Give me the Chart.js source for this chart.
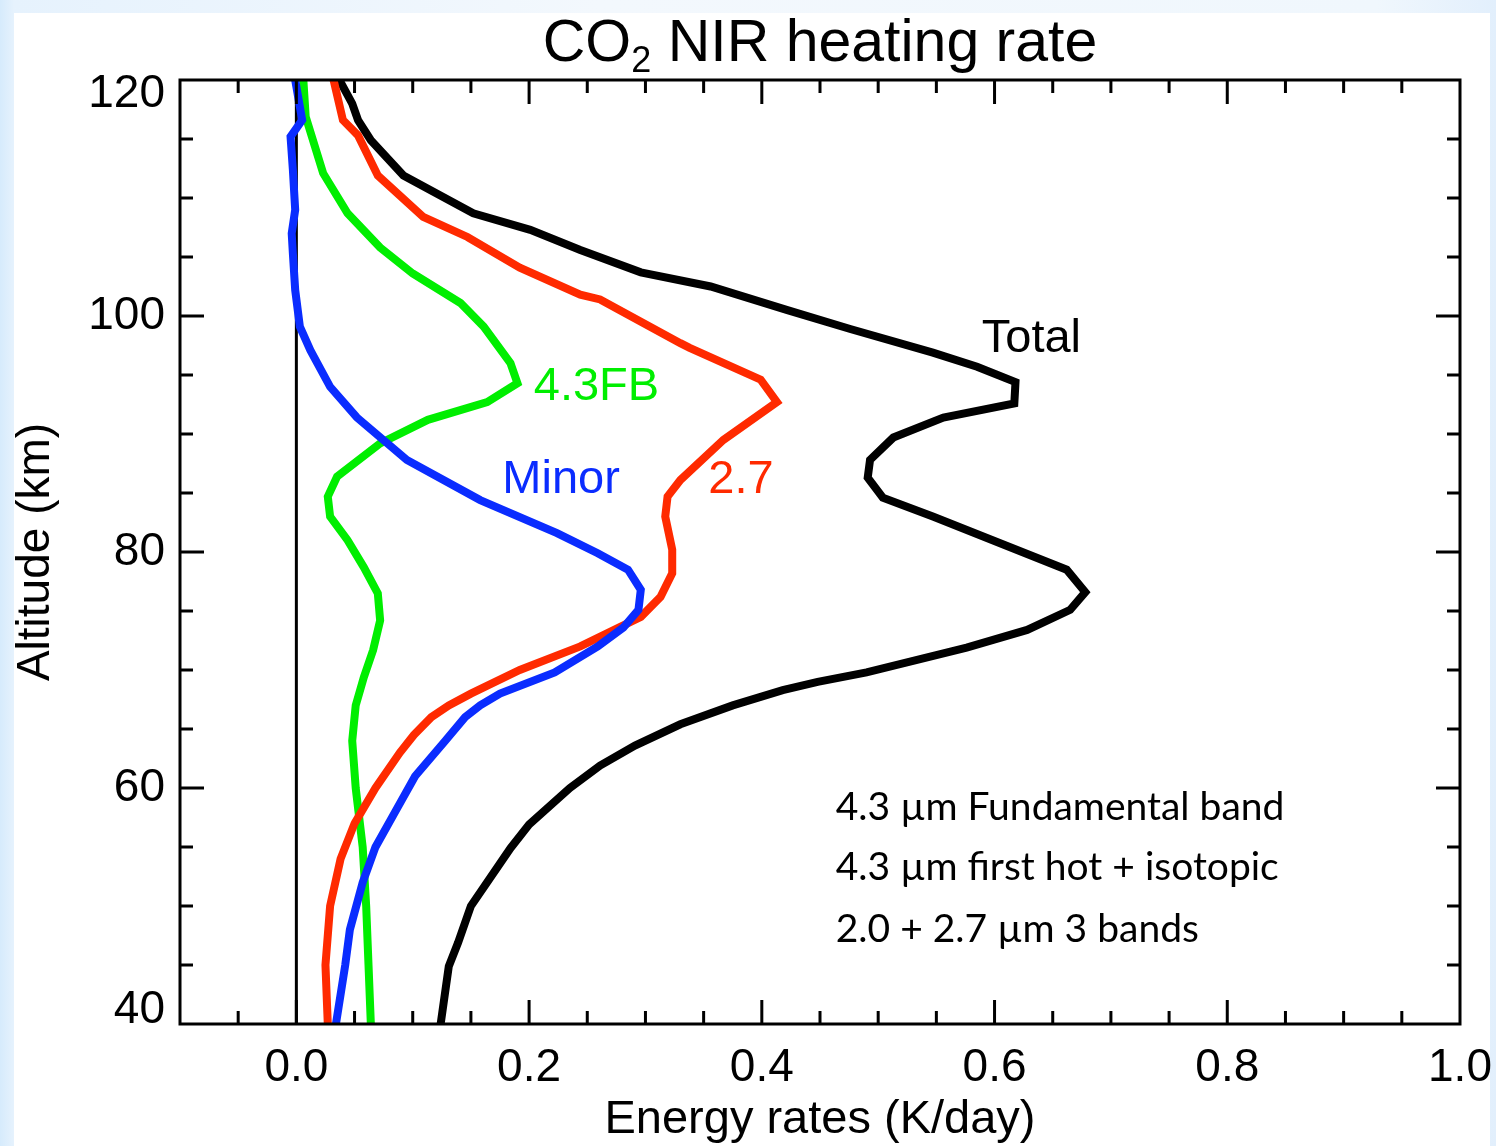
<!DOCTYPE html>
<html>
<head>
<meta charset="utf-8">
<title>CO2 NIR heating rate</title>
<script src="https://cdn.jsdelivr.net/npm/chart.js@4.4.1/dist/chart.umd.min.js"></script>
<style>
  html, body { margin:0; padding:0; }
  body {
    width:1496px; height:1146px; overflow:hidden; position:relative;
    background:linear-gradient(to right, #d6ebfc 0px, #e6f2fd 14px, #f3f8fd 40%, #f0f7fd 92%, #e2effc 100%);
  }
  #panel { position:absolute; left:14px; top:13px; width:1476px; height:1133px; background:#fff; }
  #chart { position:absolute; left:0; top:0; }
</style>
</head>
<body>
<div id="panel"></div>
<canvas id="chart" width="1496" height="1146"></canvas>
<script>

/* data: altitude (km) and heating rate (K/day) per curve */

const totalAlt = [120, 118, 116.6, 114.9, 111.9, 108.7, 107.3, 105.6, 103.7, 102.5, 100.5, 98.9,
  96.9, 95.7, 94.4, 92.6, 91.4, 89.7, 87.8, 86.3, 84.6, 83.0, 78.5, 76.6, 75.1, 73.4, 71.9,
  69.8, 69.0, 68.3, 67.0, 65.4, 63.6, 61.9, 60.0, 56.9, 54.9, 50.0, 46.9, 44.9, 40];
const totalRate = [0.037, 0.048, 0.053, 0.064, 0.092, 0.152, 0.201, 0.244, 0.296, 0.356, 0.422, 0.476,
  0.547, 0.585, 0.618, 0.617, 0.556, 0.513, 0.493, 0.491, 0.504, 0.547, 0.662, 0.678, 0.665, 0.628, 0.576,
  0.490, 0.448, 0.418, 0.375, 0.330, 0.291, 0.261, 0.235, 0.200, 0.184, 0.150, 0.139, 0.131, 0.124];

const band27Alt = [120, 116.6, 115.3, 111.9, 108.4, 106.7, 104.1, 101.8, 101.4, 97.7, 97.3, 94.6,
  92.7, 89.5, 86.1, 84.7, 83.0, 80.2, 78.2, 76.2, 74.5, 72, 70, 68, 67, 66, 64.5, 63, 60, 57, 54, 50, 45, 40];
const band27Rate = [0.032, 0.040, 0.053, 0.070, 0.109, 0.147, 0.192, 0.244, 0.261, 0.330, 0.338, 0.399,
  0.413, 0.367, 0.330, 0.319, 0.317, 0.323, 0.323, 0.313, 0.296, 0.244, 0.192, 0.150, 0.131, 0.116, 0.101, 0.089,
  0.068, 0.050, 0.038, 0.029, 0.025, 0.027];

const fbAlt = [120, 116.9, 112.1, 108.7, 105.8, 103.6, 101.1, 99.1, 96.0, 94.3, 92.7, 91.2, 89.2,
  86.4, 84.7, 83.0, 81, 78.7, 76.5, 74.2, 71.7, 69.4, 67, 64, 60, 55, 50, 45, 40];
const fbRate = [0.006, 0.008, 0.023, 0.044, 0.072, 0.100, 0.141, 0.161, 0.184, 0.190, 0.164, 0.113, 0.072,
  0.035, 0.027, 0.029, 0.044, 0.058, 0.070, 0.072, 0.066, 0.058, 0.051, 0.048, 0.051, 0.057, 0.060, 0.062, 0.064];

const minorAlt = [120, 116.6, 115.2, 112.4, 109, 107, 105.3, 102.2, 99.1, 97.1, 96.0, 94.0, 91.4,
  87.8, 84.4, 81.6, 79.9, 78.5, 76.8, 75.1, 73.6, 72.0, 69.8, 68, 67, 66, 64, 61, 58, 55, 52, 48, 45, 40];
const minorRate = [-0.001, 0.005, -0.005, -0.003, -0.001, -0.004, -0.003, -0.001, 0.003, 0.012, 0.018, 0.029, 0.052,
  0.095, 0.158, 0.224, 0.259, 0.285, 0.296, 0.294, 0.281, 0.259, 0.222, 0.175, 0.158, 0.145, 0.128, 0.102,
  0.085, 0.068, 0.057, 0.046, 0.042, 0.034];

const zeroAlt = [40, 120];
const zeroRate = [0, 0];

const xTickValues = [0, 0.2, 0.4, 0.6, 0.8, 1.0];
const yTickValues = [40, 60, 80, 100, 120];

const SANS = "'Liberation Sans', Arial, Helvetica, sans-serif";
const GILL = "Lato, 'Open Sans', sans-serif";

/* text placed on the plot, anchored in data units */
const curveLabels = [
  { text:'Total', x:0.589, y:96.95, color:'#000000' },
  { text:'4.3FB', x:0.204, y:92.9, color:'#00ee00' },
  { text:'Minor', x:0.177, y:85.0, color:'#0a2cff' },
  { text:'2.7', x:0.354, y:85.0, color:'#ff2a00' }
];

const notes = [
  { text:'4.3 µm Fundamental band', x:0.4635, y:57.3 },
  { text:'4.3 µm first hot + isotopic', x:0.4635, y:52.2 },
  { text:'2.0 + 2.7 µm 3 bands', x:0.4635, y:46.97 }
];

function points(rates, alts){
  return rates.map((v, i) => ({ x:v, y:alts[i] }));
}

/* frame, inward ticks, title and annotations */

const idlFrame = {
  id:'idlFrame',
  afterDatasetsDraw(chart){
    const { ctx, chartArea:a, scales:{ x, y } } = chart;
    ctx.save();
    ctx.strokeStyle = '#000';
    ctx.lineWidth = 3;
    ctx.strokeRect(a.left, a.top, a.right - a.left, a.bottom - a.top);

    ctx.beginPath();
    for (let i = -1; i <= 19; i++) {
      const px = x.getPixelForValue(i * 0.05);
      const len = (i % 4 === 0) ? 24 : 13;
      ctx.moveTo(px, a.bottom); ctx.lineTo(px, a.bottom - len);
      ctx.moveTo(px, a.top); ctx.lineTo(px, a.top + len);
    }
    for (let k = 45; k <= 115; k += 5) {
      const py = y.getPixelForValue(k);
      const len = (k % 20 === 0) ? 24 : 13;
      ctx.moveTo(a.left, py); ctx.lineTo(a.left + len, py);
      ctx.moveTo(a.right, py); ctx.lineTo(a.right - len, py);
    }
    ctx.stroke();
    ctx.restore();
  },
  afterDraw(chart){
    const { ctx, chartArea:a, scales:{ x, y } } = chart;
    ctx.save();
    ctx.fillStyle = '#000';

    // y tick labels, end labels kept inside the frame
    ctx.font = '46px ' + SANS;
    ctx.textAlign = 'right';
    ctx.textBaseline = 'middle';
    yTickValues.forEach(v => {
      let py = y.getPixelForValue(v);
      py = Math.min(Math.max(py, a.top + 14), a.bottom - 14);
      ctx.fillText(String(v), a.left - 15, py);
    });

    // title with subscript
    const big = '59px ' + SANS, small = '36px ' + SANS;
    ctx.textAlign = 'left';
    ctx.textBaseline = 'alphabetic';
    ctx.font = big;
    const w1 = ctx.measureText('CO').width;
    const w3 = ctx.measureText(' NIR heating rate').width;
    ctx.font = small;
    const w2 = ctx.measureText('2').width;
    let tx = (a.left + a.right) / 2 - (w1 + w2 + w3) / 2;
    ctx.font = big;
    ctx.fillText('CO', tx, 61);
    ctx.font = small;
    ctx.fillText('2', tx + w1, 72);
    ctx.font = big;
    ctx.fillText(' NIR heating rate', tx + w1 + w2, 61);

    // curve names
    ctx.font = '47px ' + SANS;
    curveLabels.forEach(l => {
      ctx.fillStyle = l.color;
      ctx.fillText(l.text, x.getPixelForValue(l.x), y.getPixelForValue(l.y));
    });

    // band notes
    ctx.fillStyle = '#000';
    ctx.font = '39px ' + GILL;
    notes.forEach(n => {
      ctx.fillText(n.text, x.getPixelForValue(n.x), y.getPixelForValue(n.y));
    });

    ctx.restore();
  }
};

new Chart(document.getElementById('chart'), {

  type:'scatter',

  data:{
    datasets:[
      { label:'zero', data:points(zeroRate, zeroAlt), borderColor:'#000000', borderWidth:3, order:6 },
      { label:'Total', data:points(totalRate, totalAlt), borderColor:'#000000', order:4 },
      { label:'4.3FB', data:points(fbRate, fbAlt), borderColor:'#00ee00', order:3 },
      { label:'2.7', data:points(band27Rate, band27Alt), borderColor:'#ff2a00', order:2 },
      { label:'Minor', data:points(minorRate, minorAlt), borderColor:'#0a2cff', order:1 }
    ]
  },

  options:{
    responsive:false,
    animation:false,
    showLine:true,
    layout:{ padding:{ left:0, right:36, top:80, bottom:0 } },
    elements:{
      point:{ radius:0, hoverRadius:0 },
      line:{ borderWidth:8, tension:0, fill:false }
    },
    plugins:{
      legend:{ display:false },
      tooltip:{ enabled:false },
      title:{ display:false }
    },
    scales:{
      x:{
        type:'linear',
        min:-0.1,
        max:1.0,
        afterBuildTicks:s => { s.ticks = xTickValues.map(v => ({ value:v })); },
        afterFit:s => { s.height = 122; s.paddingLeft = 0; s.paddingRight = 0; },
        grid:{ display:false, drawTicks:false },
        border:{ display:false },
        ticks:{
          color:'#000',
          padding:17,
          maxRotation:0,
          autoSkip:false,
          font:{ family:SANS, size:46 },
          callback:v => Number(v).toFixed(1)
        },
        title:{
          display:true,
          text:'Energy rates (K/day)',
          color:'#000',
          padding:0,
          font:{ family:SANS, size:47, lineHeight:1.1 }
        }
      },
      y:{
        type:'linear',
        min:40,
        max:120,
        afterBuildTicks:s => { s.ticks = yTickValues.map(v => ({ value:v })); },
        afterFit:s => { s.width = 180; s.paddingTop = 0; s.paddingBottom = 0; },
        grid:{ display:false, drawTicks:false },
        border:{ display:false },
        ticks:{ display:false },
        title:{
          display:true,
          text:'Altitude (km)',
          color:'#000',
          padding:{ top:9, bottom:0 },
          font:{ family:SANS, size:46 }
        }
      }
    }
  },

  plugins:[idlFrame]

});

</script>
</body>
</html>
